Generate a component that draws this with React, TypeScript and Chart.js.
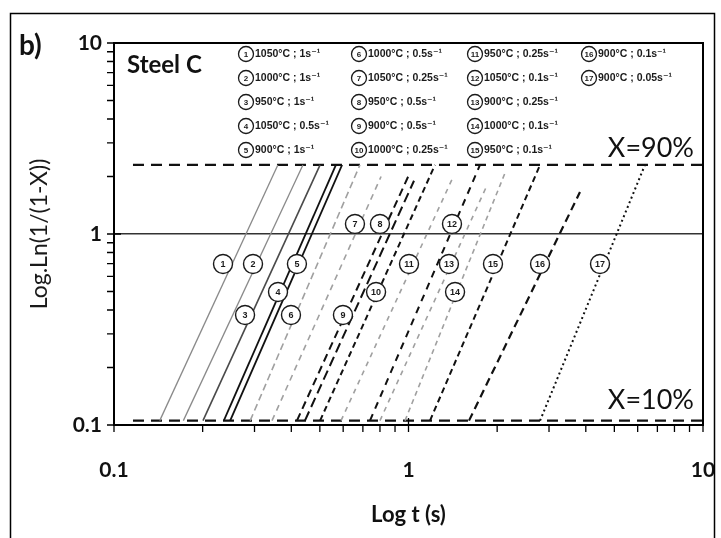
import React, { useEffect, useRef } from 'react';
import { Chart, registerables } from 'chart.js';

Chart.register(...registerables);

// ---------- data ----------
const curveIds = [1, 2, 3, 4, 5, 6, 7, 8, 9, 10, 11, 12, 13, 14, 15, 16, 17];
// Ln(1/(1-X)) at X = 10 % where every curve starts
const lnStart = 0.1054;
// time (s) where each curve starts (X = 10 %)
const tStart = [0.143, 0.172, 0.2005, 0.236, 0.248, 0.29, 0.344, 0.418, 0.445, 0.501, 0.59, 0.74, 0.8, 0.973, 1.183, 1.605, 2.797];
// time (s) and Ln value where each curve ends
const tEnd = [0.36, 0.438, 0.501, 0.567, 0.595, 0.684, 0.807, 1.012, 1.044, 1.23, 1.42, 1.749, 1.848, 2.13, 2.797, 3.822, 6.353];
const lnEnd = [2.3, 2.3, 2.3, 2.3, 2.3, 2.3, 2.0, 2.1, 1.9, 2.3, 2.0, 2.3, 1.8, 2.1, 2.3, 1.66, 2.3];

// circled label anchor points (t, Ln)
const labelT = [0.2345, 0.2965, 0.2786, 0.3605, 0.418, 0.399, 0.658, 0.8, 0.599, 0.776, 1.004, 1.405, 1.372, 1.439, 1.936, 2.797, 4.47];
const labelLn = [0.697, 0.697, 0.3766, 0.497, 0.697, 0.3766, 1.128, 1.128, 0.3766, 0.497, 0.697, 1.128, 0.697, 0.497, 0.697, 0.697, 0.697];

// legend
const legendTemps = ['1050°C', '1000°C', '950°C', '1050°C', '900°C', '1000°C', '1050°C', '950°C', '900°C', '1000°C', '950°C', '1050°C', '900°C', '1000°C', '950°C', '900°C', '900°C'];
const legendRates = ['1', '1', '1', '0.5', '1', '0.5', '0.25', '0.5', '0.5', '0.25', '0.25', '0.1', '0.25', '0.1', '0.1', '0.1', '0.05'];

// X = 90 % and X = 10 % reference lines
const refLabels = ['X=90%', 'X=10%'];
const refLn = [2.3026, 0.1054];
const refT = [0.116, 10];

const tickValues = [0.1, 1, 10];
const tickLabels = ['0.1', '1', '10'];

// ---------- styles ----------
const GRAY = '#8a8a8a';
const LGRAY = '#a0a0a0';
const DARK = '#111111';
const curveColors = [GRAY, GRAY, '#4a4a4a', DARK, DARK, LGRAY, LGRAY, DARK, DARK, DARK, LGRAY, DARK, LGRAY, LGRAY, DARK, DARK, DARK];
const curveWidths = [1.3, 1.3, 1.6, 1.8, 1.8, 1.6, 1.6, 2, 2, 2, 1.6, 2, 1.6, 1.6, 2, 2.2, 2];
const curveDashes: number[][] = [[], [], [], [], [], [7, 4], [6, 5], [8, 5], [10, 5], [6, 4], [5, 5], [7, 6], [5, 5], [5, 4], [6, 4], [8, 5], [2, 3]];

const FONT = 'Lato, "Open Sans", "DejaVu Sans", sans-serif';
const SMALL = '"Liberation Sans", "DejaVu Sans", sans-serif';

const decor = {
  id: 'decor',
  beforeDraw(chart: any) {
    const { ctx, width, height } = chart;
    ctx.save();
    ctx.fillStyle = '#ffffff';
    ctx.fillRect(0, 0, width, height);
    ctx.restore();
  },
  afterDatasetsDraw(chart: any) {
    const { ctx, scales } = chart;
    const xs = scales.x, ys = scales.y;
    ctx.save();
    for (let i = 0; i < curveIds.length; i++) {
      const px = xs.getPixelForValue(labelT[i]);
      const py = ys.getPixelForValue(labelLn[i]);
      ctx.beginPath();
      ctx.arc(px, py, 9.5, 0, Math.PI * 2);
      ctx.fillStyle = '#fff';
      ctx.fill();
      ctx.lineWidth = 1.4;
      ctx.strokeStyle = '#1a1a1a';
      ctx.stroke();
      ctx.fillStyle = '#1a1a1a';
      ctx.font = 'bold 9px ' + SMALL;
      ctx.textAlign = 'center';
      ctx.textBaseline = 'middle';
      ctx.fillText(String(curveIds[i]), px, py + 0.5);
    }
    ctx.restore();
  },
  afterDraw(chart: any) {
    const { ctx, chartArea, scales } = chart;
    const { left, right, top, bottom } = chartArea;
    const xs = scales.x, ys = scales.y;
    ctx.save();
    // outer figure border
    ctx.strokeStyle = '#000';
    ctx.lineWidth = 1.5;
    ctx.strokeRect(10.5, 13.5, 704, 540);
    // plot frame
    ctx.lineWidth = 2;
    ctx.strokeRect(left, top, right - left, bottom - top);
    // ticks
    ctx.lineWidth = 1.3;
    ctx.beginPath();
    for (let d = -1; d < 1; d++) {
      for (let k = 1; k <= 9; k++) {
        const v = k * Math.pow(10, d);
        const py = ys.getPixelForValue(v);
        const px = xs.getPixelForValue(v);
        if (k === 1) {
          ctx.moveTo(left - 7, py); ctx.lineTo(left + 7, py);
          ctx.moveTo(px, bottom - 7); ctx.lineTo(px, bottom + 7);
        } else {
          ctx.moveTo(left - 7, py); ctx.lineTo(left, py);
          ctx.moveTo(px, bottom); ctx.lineTo(px, bottom + 7);
        }
      }
    }
    const p10y = ys.getPixelForValue(10), p10x = xs.getPixelForValue(10);
    ctx.moveTo(left - 7, p10y); ctx.lineTo(left, p10y);
    ctx.moveTo(p10x, bottom); ctx.lineTo(p10x, bottom + 7);
    ctx.stroke();

    ctx.fillStyle = '#111';
    ctx.textBaseline = 'middle';
    // panel letter
    ctx.textAlign = 'left';
    ctx.font = 'bold 28px ' + FONT;
    ctx.fillText('b)', 19, 46);
    // Steel C
    ctx.font = 'bold 24px ' + FONT;
    ctx.fillText('Steel C', 127, 65);
    // X labels
    ctx.font = '27px ' + FONT;
    ctx.textAlign = 'right';
    ctx.fillText(refLabels[0], 694, 148);
    ctx.fillText(refLabels[1], 694, 400);

    // legend
    const colX = [246, 359, 475, 589];
    for (let i = 0; i < curveIds.length; i++) {
      const col = Math.floor(i / 5), row = i % 5;
      const cx = colX[col], cy = 54 + row * 24;
      ctx.beginPath();
      ctx.arc(cx, cy, 7.5, 0, Math.PI * 2);
      ctx.lineWidth = 1.3;
      ctx.strokeStyle = '#1a1a1a';
      ctx.stroke();
      ctx.textAlign = 'center';
      ctx.font = 'bold 8px ' + SMALL;
      ctx.fillStyle = '#1a1a1a';
      ctx.fillText(String(curveIds[i]), cx, cy + 0.5);
      ctx.textAlign = 'left';
      ctx.font = 'bold 10.5px ' + SMALL;
      ctx.fillText(legendTemps[i] + ' ; ' + legendRates[i] + 's⁻¹', cx + 9, cy);
    }
    ctx.restore();
  },
};

export default function App() {
  const ref = useRef<HTMLCanvasElement | null>(null);
  useEffect(() => {
    if (!ref.current) return;
    const datasets: any[] = curveIds.map((id, i) => ({
      label: 'Curve ' + id,
      data: [
        { x: tStart[i], y: lnStart },
        { x: tEnd[i], y: lnEnd[i] },
      ],
      showLine: true,
      borderColor: curveColors[i],
      borderWidth: curveWidths[i],
      borderDash: curveDashes[i],
      pointRadius: 0,
      fill: false,
      tension: 0,
    }));
    refLn.forEach((v, i) => {
      datasets.push({
        label: refLabels[i],
        data: [{ x: refT[0], y: v }, { x: refT[1], y: v }],
        showLine: true,
        borderColor: '#111',
        borderWidth: 2.2,
        borderDash: [11, 7],
        pointRadius: 0,
        fill: false,
      });
    });
    const zeroPad = (s: any) => {
      s.paddingLeft = 0; s.paddingRight = 0; s.paddingTop = 0; s.paddingBottom = 0;
    };
    const chart = new Chart(ref.current, {
      type: 'scatter',
      data: { datasets },
      options: {
        responsive: false,
        animation: false,
        devicePixelRatio: 1,
        layout: { padding: { left: 0, top: 43, right: 18, bottom: 0 } },
        plugins: { legend: { display: false }, tooltip: { enabled: false } },
        scales: {
          x: {
            type: 'logarithmic',
            min: 0.1,
            max: 10,
            position: 'bottom',
            afterBuildTicks: (s: any) => { s.ticks = tickValues.map((v) => ({ value: v, major: true })); },
            afterFit: (s: any) => { s.height = 113; zeroPad(s); },
            grid: { display: false, drawTicks: false },
            border: { display: false },
            ticks: {
              autoSkip: false,
              maxRotation: 0,
              padding: 33,
              color: '#111',
              font: { family: FONT, size: 21, weight: 'bold' },
              callback: (v: any) => tickLabels[tickValues.indexOf(Number(v))] ?? '',
            },
            title: {
              display: true,
              text: 'Log t (s)',
              color: '#111',
              font: { family: FONT, size: 22, weight: 'bold' },
              padding: { top: 0, bottom: 10 },
            },
          },
          y: {
            type: 'logarithmic',
            min: 0.1,
            max: 10,
            afterBuildTicks: (s: any) => { s.ticks = tickValues.map((v) => ({ value: v, major: true })); },
            afterFit: (s: any) => { s.width = 114; zeroPad(s); },
            grid: {
              drawTicks: false,
              color: (c: any) => (c.tick && c.tick.value === 1 ? '#333' : 'rgba(0,0,0,0)'),
              lineWidth: 1.6,
            },
            border: { display: false },
            ticks: {
              autoSkip: false,
              padding: 12,
              color: '#111',
              font: { family: FONT, size: 21, weight: 'bold' },
              callback: (v: any) => tickLabels[tickValues.indexOf(Number(v))] ?? '',
            },
            title: {
              display: true,
              text: 'Log.Ln(1/(1-X))',
              color: '#1a1a1a',
              font: { family: FONT, size: 23 },
              padding: { top: 26, bottom: 0 },
            },
          },
        },
      } as any,
      plugins: [decor],
    });
    return () => chart.destroy();
  }, []);
  return (
    <div style={{ position: 'absolute', left: 0, top: 0, width: 721, height: 538 }}>
      <canvas ref={ref} width={721} height={538} />
    </div>
  );
}
